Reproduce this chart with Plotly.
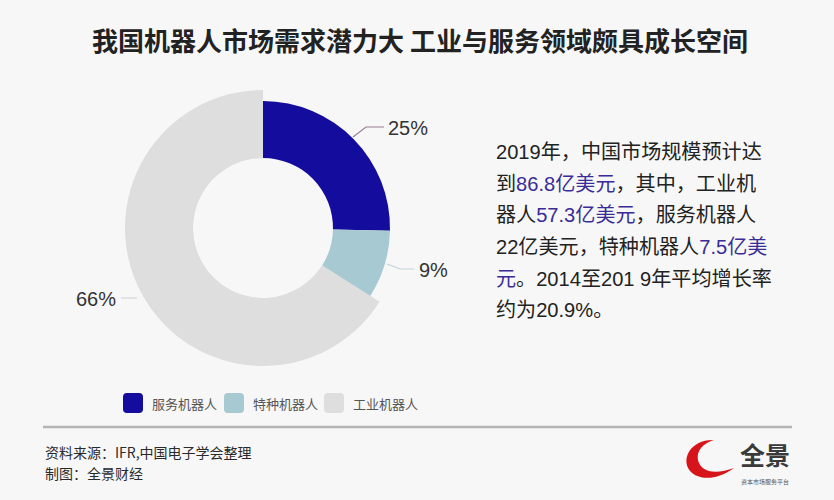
import plotly.graph_objects as go

W, H = 834, 500

# ---- data ----
labels = ['服务机器人', '特种机器人', '工业机器人']
values = [22, 7.5, 57.3]          # 亿美元
colors = ['#140c9c', '#a7c9d1', '#dedede']
title = '我国机器人市场需求潜力大 工业与服务领域颇具成长空间'
HL = "<span style='color:#3a2c96'>{}</span>"
desc_lines = [
    '2019年，中国市场规模预计达',
    '到' + HL.format('86.8亿美元') + '，其中，工业机',
    '器人' + HL.format('57.3亿美元') + '，服务机器人',
    '22亿美元，特种机器人' + HL.format('7.5亿美'),
    HL.format('元') + '。2014至201 9年平均增长率',
    '约为20.9%。',
]
source_lines = ['资料来源：IFR,中国电子学会整理', '制图：全景财经']

total = sum(values)
pct_text = [f"{round(v / total * 100)}%" for v in values]

# ---- helpers (pixel -> paper) ----
def X(px):
    return px / W

def Y(py):
    return 1 - py / H

def path(points, close=False):
    s = 'M ' + ' L '.join(f'{X(x):.5f},{Y(y):.5f}' for x, y in points)
    return s + (' Z' if close else '')

CX, CY = 263, 228
R_IN, R_SMALL, R_BIG = 70, 127, 138

fig = go.Figure()

# Outer (larger) ring – only the industrial slice is visible
big_colors = ['rgba(0,0,0,0)', 'rgba(0,0,0,0)', colors[2]]
fig.add_trace(go.Pie(
    labels=labels, values=values, sort=False, direction='clockwise', rotation=0,
    hole=R_IN / R_BIG, textinfo='none', hoverinfo='skip', showlegend=False,
    marker=dict(colors=big_colors, line=dict(width=0)),
    domain=dict(x=[X(CX - R_BIG), X(CX + R_BIG)], y=[Y(CY + R_BIG), Y(CY - R_BIG)]),
))
# Inner ring – all slices
fig.add_trace(go.Pie(
    labels=labels, values=values, sort=False, direction='clockwise', rotation=0,
    hole=R_IN / R_SMALL, textinfo='none', showlegend=False,
    marker=dict(colors=colors, line=dict(width=0)),
    domain=dict(x=[X(CX - R_SMALL), X(CX + R_SMALL)], y=[Y(CY + R_SMALL), Y(CY - R_SMALL)]),
))

shapes = []
annotations = []

# title
annotations.append(dict(
    text=f'<b>{title}</b>', x=X(420), y=Y(40), xref='paper', yref='paper',
    xanchor='center', yanchor='middle', showarrow=False,
    font=dict(family='Noto Sans CJK SC', size=26, color='#222222')))

# percentage labels with leader lines
label_pos = [(386, 128, 'left'), (417, 270, 'left'), (118, 299, 'right')]
leaders = [
    ([(353, 137), (366, 127), (384, 127)], '#9c7c98'),
    ([(387, 264), (400, 269), (414, 269)], '#c2d3d8'),
    ([(137, 298), (121, 298)], '#d5d5d5'),
]
for (lx, ly, anc), txt in zip(label_pos, pct_text):
    annotations.append(dict(
        text=txt, x=X(lx), y=Y(ly), xref='paper', yref='paper',
        xanchor=anc, yanchor='middle', showarrow=False,
        font=dict(family='Liberation Sans, Noto Sans CJK SC', size=20, color='#333333')))
for pts, col in leaders:
    shapes.append(dict(type='path', path=path(pts), xref='paper', yref='paper',
                       line=dict(color=col, width=1.2)))

# description text
desc_y = [152, 183.5, 215, 247, 278.5, 310]
for line, yy in zip(desc_lines, desc_y):
    annotations.append(dict(
        text=line, x=X(494), y=Y(yy), xref='paper', yref='paper',
        xanchor='left', yanchor='middle', showarrow=False,
        font=dict(family='Liberation Sans, Noto Sans CJK SC', size=20.1, color='#222222')))

# custom legend (rounded swatches)
leg_x = [123, 224, 324]
leg_y = 403
sw = 20
rr = 4
for lx, lab, col in zip(leg_x, labels, colors):
    x0, x1, y0, y1 = lx, lx + sw, leg_y - sw / 2, leg_y + sw / 2
    p = (f'M {X(x0 + rr)},{Y(y0)} L {X(x1 - rr)},{Y(y0)} Q {X(x1)},{Y(y0)} {X(x1)},{Y(y0 + rr)} '
         f'L {X(x1)},{Y(y1 - rr)} Q {X(x1)},{Y(y1)} {X(x1 - rr)},{Y(y1)} '
         f'L {X(x0 + rr)},{Y(y1)} Q {X(x0)},{Y(y1)} {X(x0)},{Y(y1 - rr)} '
         f'L {X(x0)},{Y(y0 + rr)} Q {X(x0)},{Y(y0)} {X(x0 + rr)},{Y(y0)} Z')
    shapes.append(dict(type='path', path=p, xref='paper', yref='paper',
                       fillcolor=col, line=dict(width=0)))
    annotations.append(dict(
        text=lab, x=X(lx + 27), y=Y(leg_y), xref='paper', yref='paper',
        xanchor='left', yanchor='middle', showarrow=False,
        font=dict(family='Noto Sans CJK SC', size=13, color='#555555')))

# footer rule
shapes.append(dict(type='line', x0=X(43), x1=X(792), y0=Y(427), y1=Y(427),
                   xref='paper', yref='paper', line=dict(color='#b5b5b5', width=2.5)))
for line, yy in zip(source_lines, [452, 473]):
    annotations.append(dict(
        text=line, x=X(43), y=Y(yy), xref='paper', yref='paper',
        xanchor='left', yanchor='middle', showarrow=False,
        font=dict(family='Noto Sans CJK SC', size=14, color='#2a2a2a')))

# logo (decorative)
c_path = (f'M {X(714)},{Y(440)} '
          f'C {X(692)},{Y(439)} {X(680)},{Y(458)} {X(690)},{Y(471)} '
          f'C {X(699)},{Y(481)} {X(718)},{Y(480)} {X(734)},{Y(468)} '
          f'C {X(718)},{Y(474)} {X(703)},{Y(473)} {X(699)},{Y(463)} '
          f'C {X(695)},{Y(453)} {X(701)},{Y(444)} {X(714)},{Y(440)} Z')
shapes.append(dict(type='path', path=c_path, xref='paper', yref='paper',
                   fillcolor='#d7141a', line=dict(width=0)))
annotations.append(dict(
    text='<b>全景</b>', x=X(765), y=Y(474), xref='paper', yref='paper',
    xanchor='center', yanchor='bottom', showarrow=False,
    font=dict(family='Noto Sans CJK SC', size=25, color='#3a3a3a')))
annotations.append(dict(
    text='资本市场服务平台', x=X(765), y=Y(475), xref='paper', yref='paper',
    xanchor='center', yanchor='top', showarrow=False,
    font=dict(family='Noto Sans CJK SC', size=6, color='#555555')))

fig.update_layout(
    width=W, height=H,
    margin=dict(l=0, r=0, t=0, b=0),
    paper_bgcolor='#f7f7f7', plot_bgcolor='#f7f7f7',
    showlegend=False,
    shapes=shapes, annotations=annotations,
)

fig.write_html('out.html')
